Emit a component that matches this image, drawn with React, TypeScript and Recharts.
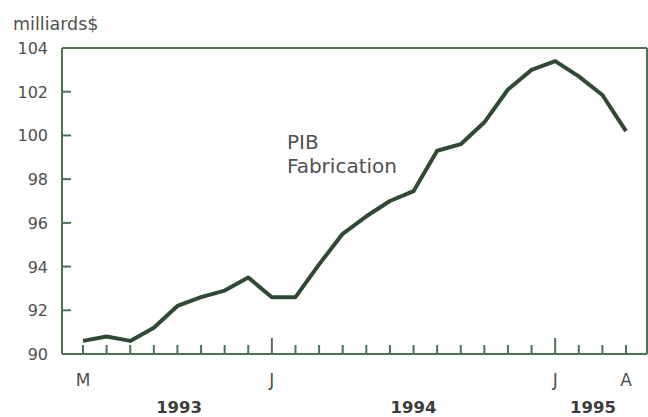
import React from 'react';
import { LineChart, Line, XAxis, YAxis, ReferenceLine } from 'recharts';

// PIB fabrication, mai 1993 à avril 1995 (milliards $)
const monthLabels = ['M', '', '', '', '', '', '', '', 'J', '', '', '', '', '', '', '', '', '', '', '', 'J', '', '', 'A'];
const pibValues = [
  90.6, 90.8, 90.6, 91.2, 92.2, 92.6, 92.9, 93.5, 92.6, 92.6, 94.1, 95.5,
  96.3, 97.0, 97.45, 99.3, 99.6, 100.6, 102.1, 103.0, 103.4, 102.7, 101.85, 100.2,
];
const yTicks = [90, 92, 94, 96, 98, 100, 102, 104];
const yearTicks = [4.07, 14.0, 21.6];
const yearLabels = ['1993', '1994', '1995'];

const data = pibValues.map((v, i) => ({ i, label: monthLabels[i], pib: v }));
const xTicks = data.map((d) => d.i);

const AXIS = '#4e7353';
const TEXT = '#505050';
const FONT = '"DejaVu Sans", "Liberation Sans", sans-serif';

const MonthTick = (props: any) => {
  const { x, y, payload } = props;
  const lab = monthLabels[payload.value];
  const len = lab === 'J' ? 16 : 9;
  return (
    <g>
      <line x1={x} x2={x} y1={y} y2={y - len} stroke={AXIS} strokeWidth={2} />
      {lab ? (
        <text x={x} y={y + 32} textAnchor="middle" fontSize={17} fill={TEXT} fontFamily={FONT}>
          {lab}
        </text>
      ) : null}
    </g>
  );
};

const YearTick = (props: any) => {
  const { x, y, payload } = props;
  const idx = yearTicks.indexOf(payload.value);
  return (
    <text x={x} y={y + 19} textAnchor="middle" fontSize={16.5} fontWeight="bold" fill="#3c3c3c" fontFamily={FONT}>
      {yearLabels[idx]}
    </text>
  );
};

const LeftTick = (props: any) => {
  const { x, y, payload } = props;
  return (
    <g>
      <line x1={x} x2={x + 9} y1={y} y2={y} stroke={AXIS} strokeWidth={2} />
      <text x={x - 14} y={y + 6} textAnchor="end" fontSize={16} fill={TEXT} fontFamily={FONT}>
        {payload.value}
      </text>
    </g>
  );
};

const RightTick = (props: any) => {
  const { x, y } = props;
  return <line x1={x} x2={x - 9} y1={y} y2={y} stroke={AXIS} strokeWidth={2} />;
};

export default function App() {
  return (
    <div style={{ position: 'absolute', left: 0, top: 0, width: 648, height: 417, background: '#fff' }}>
      <LineChart width={648} height={417} data={data} margin={{ top: 48, right: 0, left: 0, bottom: 0 }}>
        <XAxis
          dataKey="i"
          type="number"
          domain={[-0.89, 23.89]}
          ticks={xTicks}
          interval={0}
          height={40}
          tickSize={0}
          tickMargin={0}
          tickLine={false}
          axisLine={{ stroke: AXIS, strokeWidth: 2 }}
          tick={<MonthTick />}
        />
        <XAxis
          xAxisId="year"
          dataKey="i"
          type="number"
          domain={[-0.89, 23.89]}
          ticks={yearTicks}
          interval={0}
          height={23}
          tickSize={0}
          tickMargin={0}
          tickLine={false}
          axisLine={false}
          tick={<YearTick />}
        />
        <YAxis
          yAxisId="left"
          domain={[90, 104]}
          ticks={yTicks}
          interval={0}
          width={62}
          tickSize={0}
          tickMargin={0}
          tickLine={false}
          axisLine={{ stroke: AXIS, strokeWidth: 2 }}
          tick={<LeftTick />}
        />
        <YAxis
          yAxisId="right"
          orientation="right"
          domain={[90, 104]}
          ticks={yTicks}
          interval={0}
          width={1}
          tickSize={0}
          tickMargin={0}
          tickLine={false}
          axisLine={{ stroke: AXIS, strokeWidth: 2 }}
          tick={<RightTick />}
        />
        <ReferenceLine yAxisId="left" y={104} stroke={AXIS} strokeWidth={2} />
        <Line
          yAxisId="left"
          type="linear"
          dataKey="pib"
          stroke="#2f4a34"
          strokeWidth={4}
          strokeLinejoin="round"
          dot={false}
          activeDot={false}
          isAnimationActive={false}
        />
      </LineChart>
      <svg width={648} height={417} style={{ position: 'absolute', left: 0, top: 0, pointerEvents: 'none' }}>
        <text x={13} y={30} fontSize={17.5} fill={TEXT} fontFamily={FONT}>milliards$</text>
        <text x={287} y={149} fontSize={20} fill={TEXT} fontFamily={FONT}>PIB</text>
        <text x={287} y={173} fontSize={20} fill={TEXT} fontFamily={FONT}>Fabrication</text>
      </svg>
    </div>
  );
}
